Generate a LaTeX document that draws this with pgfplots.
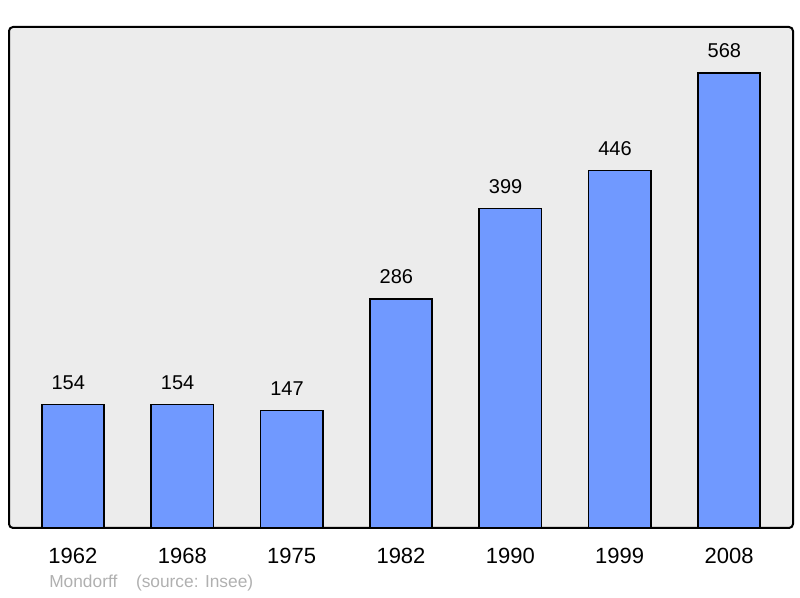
\documentclass[border=0pt]{standalone}
\usepackage{pgfplots}
\pgfplotsset{compat=1.18}
\usepackage{fontspec}
\setmainfont{Liberation Sans}
\definecolor{barblue}{HTML}{7099FF}
\definecolor{bggray}{HTML}{ECECEC}
\definecolor{srcgray}{HTML}{B0B0B0}
\begin{document}
\begin{tikzpicture}
\useasboundingbox (-6.75pt,-52.5pt) rectangle (593.25pt,396pt);
\begin{axis}[
  at={(0,0)}, anchor=south west,
  scale only axis,
  width=588pt, height=375.75pt,
  xmin=-0.585, xmax=6.585,
  ymin=0, ymax=625.5,
  axis line style={draw=none},
  axis background/.style={fill=bggray, draw=black, line width=1.5pt, rounded corners=3pt},
  ytick=\empty,
  xtick=data,
  xticklabels={1962,1968,1975,1982,1990,1999,2008},
  major tick length=0pt,
  xticklabel style={font=\fontsize{16.5}{18}\selectfont, anchor=center, yshift=-21pt},
  /pgf/number format/assume math mode=true,
  ybar, bar width=0.57,
  nodes near coords,
  every node near coord/.append style={font=\fontsize{15}{17}\selectfont, anchor=center, yshift=16.5pt, xshift=-3.5pt},
  clip=false,
]
\addplot[fill=barblue, draw=black, line width=1.1pt] coordinates {
  (0,154) (1,154) (2,147) (3,286) (4,399) (5,446) (6,568)
};
\node[anchor=west, text=srcgray, font=\fontsize{13}{15}\selectfont, inner sep=0pt]
  at ([xshift=30pt,yshift=-41.25pt]rel axis cs:0,0) {Mondorff\hspace{14pt}(source: Insee)};
\end{axis}
\end{tikzpicture}
\end{document}
